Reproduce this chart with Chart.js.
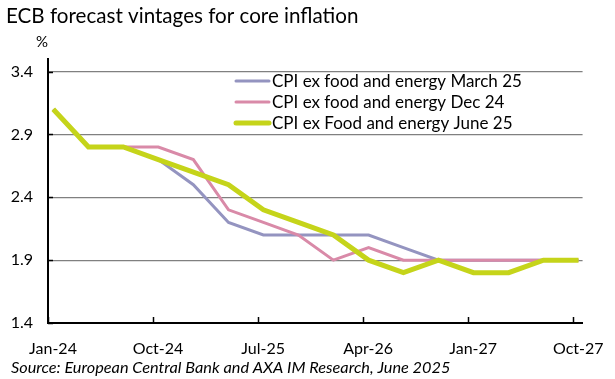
<!DOCTYPE html>
<html><head><meta charset="utf-8">
<script src="https://cdn.jsdelivr.net/npm/chart.js@4"></script>
<style>html,body{margin:0;padding:0;background:#fff}#wrap{width:615px;height:379px;position:relative}</style>
</head><body><div id="wrap"><canvas id="c" width="615" height="379"></canvas></div>
<script>
const quarterDates = ['2024-01-15','2024-04-15','2024-07-15','2024-10-15','2025-01-15','2025-04-15','2025-07-15','2025-10-15','2026-01-15','2026-04-15','2026-07-15','2026-10-15','2027-01-15','2027-04-15','2027-07-15','2027-10-15'];
const march25 = [3.1,2.8,2.8,2.7,2.5,2.2,2.1,2.1,2.1,2.1,2.0,1.9,1.9,1.9,1.9,1.9];
const dec24   = [3.1,2.8,2.8,2.8,2.7,2.3,2.2,2.1,1.9,2.0,1.9,1.9,1.9,1.9,1.9,1.9];
const june25  = [3.1,2.8,2.8,2.7,2.6,2.5,2.3,2.2,2.1,1.9,1.8,1.9,1.8,1.8,1.9,1.9];
const seriesLabels = ['CPI ex food and energy March 25','CPI ex food and energy Dec 24','CPI ex Food and energy June 25'];
const xTickDates = ['2024-01-01','2024-10-01','2025-07-01','2026-04-01','2027-01-01','2027-10-01'];
const xTickLabels = ['Jan-24','Oct-24','Jul-25','Apr-26','Jan-27','Oct-27'];
const yTicks = [1.4,1.9,2.4,2.9,3.4];
const titleText = 'ECB forecast vintages for core inflation';
const unitText = '%';
const sourceText = 'Source: European Central Bank and AXA IM Research, June 2025';

const FONT = 'Lato';
function toMonths(s){
  const [Y,M,D] = s.split('-').map(Number);
  const dim = new Date(Y, M, 0).getDate();
  return (Y-2024)*12 + (M-1) + (D-1)/dim;
}
const xs = quarterDates.map(toMonths);
const pts = arr => arr.map((v,i)=>({x:xs[i], y:v}));
const xTickVals = xTickDates.map(toMonths);

const colors = ['#9494C0','#D98AA8','#C5D41A'];
const widths = [3,3,5];

const decor = {
  id:'decor',
  afterDraw(chart){
    const {ctx, chartArea:a, scales:{x,y}} = chart;
    ctx.save();
    ctx.strokeStyle='#000'; ctx.lineWidth=1.5;
    x.ticks.forEach(t=>{const px=Math.round(x.getPixelForValue(t.value))+0.5; ctx.beginPath(); ctx.moveTo(px,a.bottom); ctx.lineTo(px,a.bottom-6); ctx.stroke();});
    y.ticks.forEach(t=>{const py=Math.round(y.getPixelForValue(t.value))+0.5; ctx.beginPath(); ctx.moveTo(a.left,py); ctx.lineTo(a.left+5,py); ctx.stroke();});
    ctx.fillStyle='#000';
    ctx.textBaseline='alphabetic'; ctx.textAlign='left';
    ctx.font = '20.6px '+FONT;
    ctx.fillText(titleText, 6, 23);
    ctx.font = '15px '+FONT;
    ctx.fillText(unitText, 36, 47);
    ctx.font = 'italic 16.3px '+FONT;
    ctx.fillText(sourceText, 11, 373);
    // legend
    const rows=[81,102,123];
    ctx.font = '17px '+FONT; ctx.textBaseline='middle';
    chart.data.datasets.forEach((ds,i)=>{
      ctx.strokeStyle=ds.borderColor; ctx.lineWidth=ds.borderWidth; ctx.lineCap='round';
      ctx.beginPath(); ctx.moveTo(236,rows[i]); ctx.lineTo(269,rows[i]); ctx.stroke();
      ctx.fillStyle='#000'; ctx.fillText(ds.label, 272, rows[i]+1);
    });
    ctx.restore();
  }
};

new Chart(document.getElementById('c'), {
  type:'line',
  data:{datasets:[
    {label:seriesLabels[0], data:pts(march25), borderColor:colors[0], borderWidth:widths[0], order:2},
    {label:seriesLabels[1], data:pts(dec24), borderColor:colors[1], borderWidth:widths[1], order:1},
    {label:seriesLabels[2], data:pts(june25), borderColor:colors[2], borderWidth:widths[2], order:0}
  ]},
  options:{
    responsive:false, animation:false,
    layout:{padding:{top:59,right:27,left:0,bottom:0}},
    elements:{point:{radius:0},line:{tension:0,borderJoinStyle:'miter',borderCapStyle:'butt'}},
    plugins:{legend:{display:false},tooltip:{enabled:false},title:{display:false}},
    scales:{
      x:{type:'linear', min:0, max:45.8,
        afterBuildTicks(s){ s.ticks = xTickVals.map(v=>({value:v})); },
        afterFit(s){ s.height = 56; },
        grid:{display:false, drawTicks:false},
        border:{color:'#000', width:2},
        ticks:{padding:16, labelOffset:5, maxRotation:0, autoSkip:false, color:'#000', font:{family:FONT,size:16},
          callback(v,i){ return xTickLabels[i]; }}
      },
      y:{type:'linear', min:1.4, max:3.5,
        afterBuildTicks(s){ s.ticks = yTicks.map(v=>({value:v})); },
        afterFit(s){ s.width = 48; },
        grid:{drawTicks:false, color:c=>c.tick && c.tick.value===1.4?'rgba(0,0,0,0)':'#808080', borderDash:[1,2], lineWidth:1.2},
        border:{color:'#000', width:2},
        ticks:{padding:15, color:'#000', font:{family:FONT,size:16}, callback:v=>v.toFixed(1)}
      }
    }
  },
  plugins:[decor]
});
</script></body></html>
